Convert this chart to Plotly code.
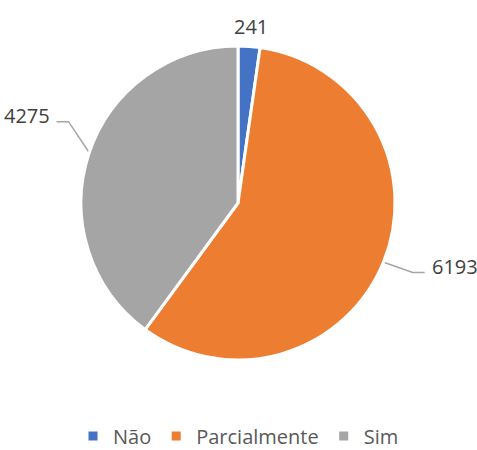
import math
import plotly.graph_objects as go

# ---- data ----
categories = ["Não", "Parcialmente", "Sim"]
values = [241, 6193, 4275]
colors = ["#4472C4", "#ED7D31", "#A5A5A5"]

# ---- layout constants (pixels) ----
W, H = 477, 450
CX, CY, R = 238, 203, 157
LABEL_ANGLE_SHIFT = [0, -0.5, 7.5]   # degrees, label placement nudge
FONT = "Open Sans"
TEXT_COLOR = "#404040"
LINE_COLOR = "#A6A6A6"

fig = go.Figure()

fig.add_trace(go.Pie(
    labels=categories,
    values=values,
    sort=False,
    direction="clockwise",
    rotation=0,
    marker=dict(colors=colors, line=dict(color="white", width=3)),
    textinfo="none",
    hoverinfo="label+value",
    domain=dict(x=[(CX - R) / W, (CX + R) / W],
                y=[1 - (CY + R) / H, 1 - (CY - R) / H]),
))

total = sum(values)
cum = 0.0
annotations = []
for i, v in enumerate(values):
    mid = (cum + v / 2) / total * 360.0
    cum += v
    a = math.radians(mid)
    sx, sy = math.sin(a), -math.cos(a)
    if abs(sx) < 0.3:
        # label directly outside, no leader line
        r = R + 20
        annotations.append(dict(
            x=CX + r * sx, y=CY + r * sy, xref="x", yref="y",
            text=str(v), showarrow=False, xanchor="center", yanchor="middle",
            font=dict(family=FONT, size=20, color=TEXT_COLOR)))
        continue
    la = math.radians(mid + LABEL_ANGLE_SHIFT[i])
    p0 = (CX + (R - 2) * sx, CY + (R - 2) * sy)
    re = R + 31
    elbow = (CX + re * math.sin(la), CY - re * math.cos(la))
    side = 1 if sx > 0 else -1
    end = (elbow[0] + side * 12, elbow[1])
    fig.add_trace(go.Scatter(
        x=[p0[0], elbow[0], end[0]], y=[p0[1], elbow[1], end[1]],
        mode="lines", line=dict(color=LINE_COLOR, width=1.5),
        showlegend=False, hoverinfo="skip"))
    annotations.append(dict(
        x=end[0] + side * 6, y=end[1] - 6, xref="x", yref="y",
        text=str(v), showarrow=False,
        xanchor="left" if side > 0 else "right", yanchor="middle",
        borderpad=0,
        font=dict(family=FONT, size=20, color=TEXT_COLOR)))

fig.update_layout(
    width=W, height=H,
    margin=dict(l=0, r=0, t=0, b=0, pad=0, autoexpand=False),
    paper_bgcolor="white", plot_bgcolor="rgba(0,0,0,0)",
    xaxis=dict(range=[0, W], visible=False, fixedrange=True, domain=[0, 1]),
    yaxis=dict(range=[H, 0], visible=False, fixedrange=True, domain=[0, 1]),
    showlegend=True,
    legend=dict(orientation="h", x=0.5, xanchor="center", y=-0.012,
                yanchor="bottom", font=dict(family=FONT, size=20, color="#595959"),
                itemwidth=30),
    annotations=annotations,
)

fig.write_html("out.html", config={"displayModeBar": False},
               post_script="document.body.style.margin='0';")
